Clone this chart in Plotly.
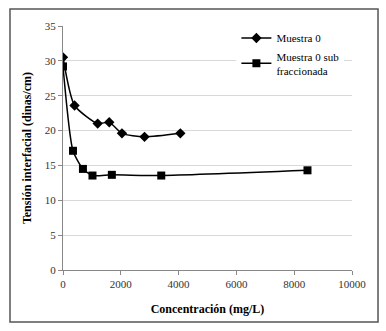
import plotly.graph_objects as go

conc_m0 = [0, 400, 1200, 1600, 2040, 2820, 4060]
tens_m0 = [30.5, 23.6, 21.0, 21.2, 19.6, 19.1, 19.6]
conc_sub = [0, 345, 690, 1020, 1690, 3400, 8460]
tens_sub = [29.2, 17.1, 14.5, 13.55, 13.65, 13.55, 14.3]

x_ticks = [0, 2000, 4000, 6000, 8000, 10000]
x_tick_labels = ["0", "2000", "4000", "6000", "8000", "10000"]
y_ticks = [0, 5, 10, 15, 20, 25, 30, 35]

FF = "Liberation Serif"

fig = go.Figure()
fig.add_trace(go.Scatter(
    x=conc_m0, y=tens_m0, name="Muestra 0", mode="lines+markers",
    line=dict(color="black", width=1.5, shape="spline", smoothing=0.6),
    marker=dict(symbol="diamond", size=8, color="black"),
))
fig.add_trace(go.Scatter(
    x=conc_sub, y=tens_sub, name="Muestra 0 sub<br>fraccionada", mode="lines+markers",
    line=dict(color="black", width=1.5, shape="spline", smoothing=0.6),
    marker=dict(symbol="square", size=8, color="black"),
))

fig.update_layout(
    width=386, height=331,
    margin=dict(l=63, r=34, t=26, b=61),
    paper_bgcolor="white", plot_bgcolor="white",
    font=dict(family=FF, size=11, color="#333333"),
    showlegend=True,
    legend=dict(
        x=0.6, y=1.01, xanchor="left", yanchor="top",
        bgcolor="white", font=dict(family=FF, size=11, color="black"),
        tracegroupgap=7, itemwidth=30,
    ),
    xaxis=dict(
        range=[0, 10000], tickvals=x_ticks, ticktext=x_tick_labels, showgrid=False,
        showline=True, linecolor="#888888", linewidth=1,
        ticks="outside", tickcolor="#888888", ticklen=4,
        tickfont=dict(family=FF, size=11, color="#333333"),
        zeroline=False, automargin=False,
        title=dict(text="<b>Concentración (mg/L)</b>", font=dict(family=FF, size=12, color="black"), standoff=15),
    ),
    yaxis=dict(
        range=[0, 35], tickvals=y_ticks, showgrid=True, gridcolor="#d9d9d9",
        showline=True, linecolor="#888888", linewidth=1,
        ticks="outside", tickcolor="#888888", ticklen=4,
        tickfont=dict(family=FF, size=11, color="#333333"),
        zeroline=False, automargin=False,
        title=dict(text="<b>Tensión interfacial (dinas/cm)</b>", font=dict(family=FF, size=12, color="black"), standoff=10),
    ),
)

fig.add_shape(type="rect", xref="paper", yref="paper",
              x0=-0.1834, x1=1.090, y0=-0.2131, y1=1.0697,
              line=dict(color="#555555", width=1.5), layer="below")

fig.write_html("out.html", config={"displayModeBar": False},
               post_script="document.body.style.margin='0';document.body.style.padding='0';")
